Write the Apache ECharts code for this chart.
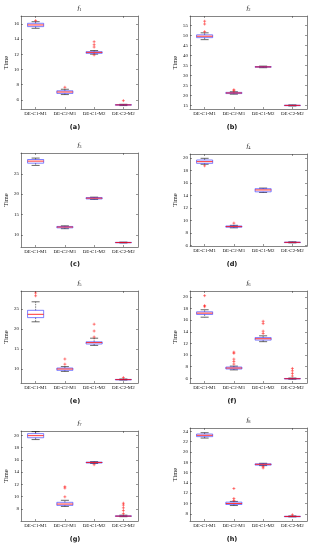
<!DOCTYPE html>
<html>
<head>
<meta charset="utf-8">
<script src="https://cdn.jsdelivr.net/npm/echarts@6/dist/echarts.min.js"></script>
<style>html,body{margin:0;padding:0;background:#fff;}#c{width:316px;height:550px;}</style>
</head>
<body>
<div id="c"></div>
<script>
// ---- data ----
const categories = ['DE-C1-M1', 'DE-C2-M1', 'DE-C1-M2', 'DE-C2-M2'];
// box stats per category: [lower whisker, Q1, median, Q3, upper whisker]
const f1Box = [[15.43, 15.65, 15.87, 16.09, 16.3], [6.7, 6.85, 7.04, 7.2, 7.4], [12.02, 12.13, 12.26, 12.35, 12.5], [5.25, 5.3, 5.34, 5.38, 5.42]];
const f1Out = [[0, 16.45], [1, 7.66], [2, 11.92], [2, 12.96], [2, 13.27], [2, 13.66], [3, 5.9]];
const f2Box = [[47.8, 48.8, 49.5, 50.2, 51.2], [20.6, 20.9, 21.2, 21.5, 21.8], [33.8, 34.0, 34.2, 34.4, 34.6], [14.7, 14.85, 15.0, 15.1, 15.25]];
const f2Out = [[0, 51.8], [0, 55.6], [0, 57.0], [1, 22.3], [1, 22.8]];
const f3Box = [[27.05, 27.6, 28.1, 28.5, 28.85], [11.5, 11.7, 11.9, 12.05, 12.2], [18.7, 18.8, 19.0, 19.15, 19.25], [8.0, 8.05, 8.1, 8.15, 8.2]];
const f3Out = [];
const f4Box = [[19.0, 19.15, 19.42, 19.68, 19.95], [8.85, 8.95, 9.05, 9.15, 9.25], [14.5, 14.6, 14.9, 15.1, 15.2], [6.45, 6.5, 6.53, 6.57, 6.62]];
const f4Out = [[0, 18.75], [1, 9.6]];
const f5Box = [[21.8, 22.84, 23.67, 24.67, 26.8], [9.4, 9.67, 10.0, 10.25, 10.6], [15.9, 16.25, 16.6, 16.8, 17.7], [7.25, 7.3, 7.35, 7.4, 7.5]];
const f5Out = [[0, 28.3], [0, 29.0], [1, 11.2], [1, 12.5], [2, 18.0], [2, 19.5], [2, 21.2], [3, 7.85]];
const f6Box = [[16.5, 16.97, 17.2, 17.43, 17.78], [7.45, 7.6, 7.77, 7.94, 8.1], [12.3, 12.57, 12.8, 13.0, 13.3], [5.85, 5.9, 5.94, 5.98, 6.05]];
const f6Out = [[0, 18.3], [0, 18.5], [0, 20.2], [1, 8.45], [1, 8.9], [1, 9.3], [1, 10.3], [1, 10.5], [2, 13.7], [2, 14.1], [2, 15.4], [2, 15.8], [3, 6.4], [3, 6.85], [3, 7.3], [3, 7.7]];
const f7Box = [[19.3, 19.6, 19.94, 20.27, 20.6], [8.38, 8.55, 8.77, 9.05, 9.38], [15.4, 15.47, 15.56, 15.62, 15.7], [6.7, 6.75, 6.8, 6.85, 6.95]];
const f7Out = [[1, 9.95], [1, 11.38], [1, 11.6], [2, 15.2], [3, 7.2], [3, 7.7], [3, 8.15], [3, 8.6], [3, 8.9]];
const f8Box = [[22.7, 22.97, 23.23, 23.48, 23.74], [9.6, 9.8, 10.0, 10.26, 10.4], [17.35, 17.45, 17.6, 17.7, 17.8], [7.4, 7.44, 7.48, 7.52, 7.58]];
const f8Out = [[1, 10.58], [1, 10.97], [1, 12.9], [2, 17.16], [2, 16.9], [3, 7.8]];
// y-axis tick labels and ranges
const f1Ticks = [6, 8, 10, 12, 14, 16];
const f2Ticks = [15, 20, 25, 30, 35, 40, 45, 50, 55];
const f3Ticks = [10, 15, 20, 25];
const f4Ticks = [6, 8, 10, 12, 14, 16, 18, 20];
const f5Ticks = [10, 15, 20, 25];
const f6Ticks = [6, 8, 10, 12, 14, 16, 18, 20];
const f7Ticks = [8, 10, 12, 14, 16, 18, 20];
const f8Ticks = [8, 10, 12, 14, 16, 18, 20, 22, 24];
const f1Range = [4.8, 17.05];
const f2Range = [13.2, 59.6];
const f3Range = [7.0, 30.1];
const f4Range = [5.95, 20.64];
const f5Range = [6.5, 29.5];
const f6Range = [5.2, 21.0];
const f7Range = [6.0, 20.7];
const f8Range = [6.6, 24.65];
const titleSubs = ['1', '2', '3', '4', '5', '6', '7', '8'];
const panelLetters = ['(a)', '(b)', '(c)', '(d)', '(e)', '(f)', '(g)', '(h)'];
const yName = 'Time';

const boxes = [f1Box, f2Box, f3Box, f4Box, f5Box, f6Box, f7Box, f8Box];
const outs = [f1Out, f2Out, f3Out, f4Out, f5Out, f6Out, f7Out, f8Out];
const ticks = [f1Ticks, f2Ticks, f3Ticks, f4Ticks, f5Ticks, f6Ticks, f7Ticks, f8Ticks];
const ranges = [f1Range, f2Range, f3Range, f4Range, f5Range, f6Range, f7Range, f8Range];

// ---- layout ----
const layout = [
  {left: 21, top: 16, width: 117, height: 93},
  {left: 190, top: 16, width: 117, height: 93},
  {left: 21, top: 153, width: 117, height: 94},
  {left: 190, top: 154, width: 117, height: 92},
  {left: 21, top: 291, width: 117, height: 92},
  {left: 190, top: 291, width: 117, height: 92},
  {left: 21, top: 431, width: 117, height: 90},
  {left: 190, top: 428, width: 117, height: 93}
];
const labelPos = [[75, 127], [232, 127], [75, 264], [232, 264], [75, 401], [232, 401], [75, 539], [232, 539]];

const serif = '"Liberation Serif", "DejaVu Serif", serif';
const axisColor = '#333';
const grid = [], xAxis = [], yAxis = [], series = [], graphic = [];

function renderBox(params, api) {
  const x = api.value(0);
  const lo = api.coord([x, api.value(1)]);
  const q1 = api.coord([x, api.value(2)]);
  const md = api.coord([x, api.value(3)]);
  const q3 = api.coord([x, api.value(4)]);
  const hi = api.coord([x, api.value(5)]);
  const bw = api.size([1, 0])[0] * 0.55;
  const cx = md[0];
  const black = {stroke: '#000', lineWidth: 0.5, lineDash: [1.5, 1]};
  const cap = {stroke: '#000', lineWidth: 0.6};
  return {
    type: 'group',
    children: [
      {type: 'line', shape: {x1: cx, y1: q3[1], x2: cx, y2: hi[1]}, style: black},
      {type: 'line', shape: {x1: cx, y1: q1[1], x2: cx, y2: lo[1]}, style: black},
      {type: 'line', shape: {x1: cx - bw / 4, y1: hi[1], x2: cx + bw / 4, y2: hi[1]}, style: cap},
      {type: 'line', shape: {x1: cx - bw / 4, y1: lo[1], x2: cx + bw / 4, y2: lo[1]}, style: cap},
      {type: 'rect', shape: {x: cx - bw / 2, y: q3[1], width: bw, height: Math.max(q1[1] - q3[1], 0.5)},
        style: {fill: 'none', stroke: '#2a2aff', lineWidth: 0.6}},
      {type: 'line', shape: {x1: cx - bw / 2, y1: md[1], x2: cx + bw / 2, y2: md[1]},
        style: {stroke: '#ff0000', lineWidth: 0.8}}
    ]
  };
}

for (let i = 0; i < 8; i++) {
  const L = layout[i];
  grid.push({left: L.left, top: L.top, width: L.width, height: L.height});
  xAxis.push({
    type: 'category', gridIndex: i, data: categories, position: 'bottom',
    axisLine: {show: true, lineStyle: {color: axisColor, width: 0.6}},
    axisTick: {show: true, inside: true, length: 2, alignWithLabel: true, lineStyle: {color: axisColor, width: 0.5}},
    axisLabel: {show: true, fontFamily: serif, fontSize: 5, color: '#111', margin: 2, interval: 0},
    splitLine: {show: false}
  });
  xAxis.push({
    type: 'category', gridIndex: i, data: categories, position: 'top',
    axisLine: {show: true, onZero: false, lineStyle: {color: axisColor, width: 0.6}},
    axisTick: {show: true, inside: true, length: 2, alignWithLabel: true, lineStyle: {color: axisColor, width: 0.5}},
    axisLabel: {show: false}, splitLine: {show: false}
  });
  yAxis.push({
    type: 'value', gridIndex: i, min: ranges[i][0], max: ranges[i][1], position: 'left',
    name: yName, nameLocation: 'middle', nameGap: 10, nameRotate: 90,
    nameTextStyle: {fontFamily: serif, fontSize: 6.5, color: '#111'},
    axisLine: {show: true, onZero: false, lineStyle: {color: axisColor, width: 0.6}},
    axisTick: {show: true, inside: true, length: 2, customValues: ticks[i], lineStyle: {color: axisColor, width: 0.5}},
    axisLabel: {show: true, customValues: ticks[i], fontFamily: serif, fontSize: 5, color: '#111', margin: 2},
    splitLine: {show: false}
  });
  yAxis.push({
    type: 'value', gridIndex: i, min: ranges[i][0], max: ranges[i][1], position: 'right',
    axisLine: {show: true, onZero: false, lineStyle: {color: axisColor, width: 0.6}},
    axisTick: {show: true, inside: true, length: 2, customValues: ticks[i], lineStyle: {color: axisColor, width: 0.5}},
    axisLabel: {show: false}, splitLine: {show: false}
  });
  series.push({
    type: 'custom', xAxisIndex: 2 * i, yAxisIndex: 2 * i,
    data: boxes[i].map((b, k) => [k].concat(b)),
    encode: {x: 0, y: [1, 2, 3, 4, 5]},
    renderItem: renderBox, silent: true, animation: false
  });
  series.push({
    type: 'scatter', xAxisIndex: 2 * i, yAxisIndex: 2 * i,
    data: outs[i],
    symbol: 'path://M0,5L10,5M5,0L5,10', symbolSize: 3,
    itemStyle: {color: 'none', borderColor: '#ff0000', borderWidth: 0.6},
    silent: true, animation: false
  });
  graphic.push({
    type: 'text', x: L.left + L.width / 2, y: L.top - 4,
    style: {
      text: '{f|f}{s|' + titleSubs[i] + '}', textAlign: 'center', textVerticalAlign: 'bottom',
      rich: {
        f: {fontFamily: serif, fontStyle: 'italic', fontSize: 7, fill: '#222'},
        s: {fontFamily: serif, fontSize: 4.5, fill: '#222', verticalAlign: 'bottom', padding: [3, 0, 0, 0]}
      }
    }
  });
  graphic.push({
    type: 'text', x: labelPos[i][0], y: labelPos[i][1],
    style: {text: panelLetters[i], textAlign: 'center', textVerticalAlign: 'middle',
      fontFamily: '"DejaVu Sans", sans-serif', fontWeight: 'bold', fontSize: 6.5, fill: '#111'}
  });
}

const chart = echarts.init(document.getElementById('c'), null, {renderer: 'canvas'});
chart.setOption({animation: false, backgroundColor: '#fff', grid, xAxis, yAxis, series, graphic});
</script>
</body>
</html>
